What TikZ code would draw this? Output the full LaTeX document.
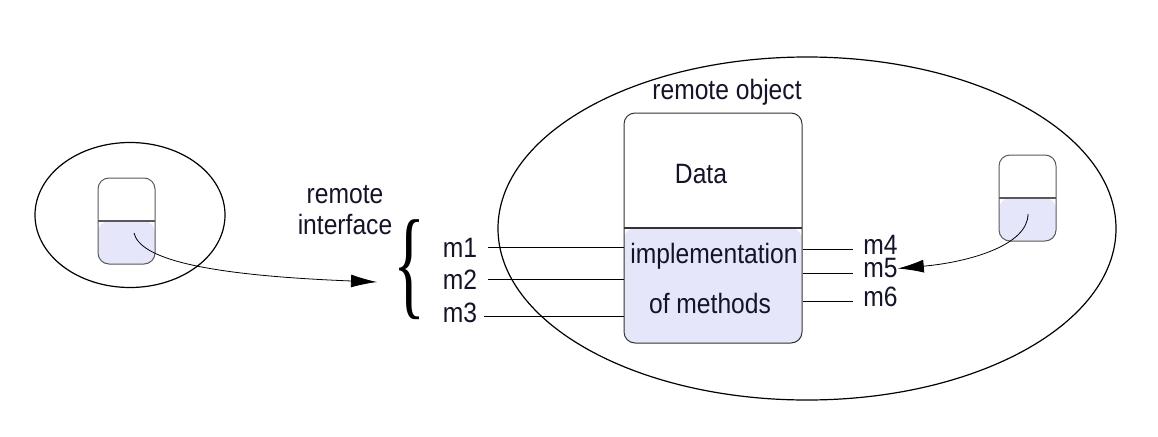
\documentclass[tikz,border=0pt]{standalone}
\usepackage{graphicx}
\usepackage{fontspec}
\setmainfont{Liberation Sans}[FakeStretch=0.88]
\newfontfamily\bracefont{Liberation Serif}
\usetikzlibrary{shapes.geometric,arrows.meta}
\definecolor{lav}{RGB}{230,230,250}
\definecolor{txt}{RGB}{20,20,40}
\tikzset{
  halo/.style={draw, ellipse, line width=1.2pt, inner sep=0pt},
  objbox/.style={draw=#1, line width=1pt, rounded corners=11pt, inner sep=0pt,
    path picture={\fill[lav] (path picture bounding box.west) rectangle (path picture bounding box.south east);
      \draw[line width=1.2pt] (path picture bounding box.west) -- (path picture bounding box.east);}},
  lbl/.style={inner sep=0pt, text=txt, font=\fontsize{28}{32}\selectfont},
  mline/.style={line width=1pt},
  call/.style={line width=0.8pt, -{Latex[length=26pt,width=13pt]}},
}
\begin{document}
\begin{tikzpicture}[x=1pt,y=-1pt]
\useasboundingbox (0,0) rectangle (1158,436);
% ellipses
\node[halo, minimum width=190pt, minimum height=145pt] (cl) at (130,215) {};
\node[halo, minimum width=618pt, minimum height=343pt] (srv) at (807,228.5) {};
% boxes
\node[objbox=gray!70!black, minimum width=57pt, minimum height=86pt] (cli) at (126.5,221) {};
\node[objbox=gray!70!black, minimum width=57pt, minimum height=86pt] (rc) at (1027.5,198) {};
\node[objbox=black!80, minimum width=178pt, minimum height=230pt] (obj) at (713,228) {};
% texts
\node[lbl] (ro) at (727,92) {remote object};
\node[lbl] (data) at (701,174) {Data};
\node[lbl] (impl) at (714,256) {implementation};
\node[lbl] (meth) at (710,303) {of methods};
\node[lbl, align=center] (ri) at (345,210) {remote\\[-1pt]interface};
\node[inner sep=0pt] (brace) at (410,270) {\resizebox*{32pt}{100pt}{\bracefont\{}};
\node[lbl] (m1) at (460,248) {m1};
\node[lbl] (m2) at (460,280) {m2};
\node[lbl] (m3) at (460,313) {m3};
\node[lbl] (m4) at (880.5,245) {m4};
\node[lbl] (m5) at (880.5,268.5) {m5};
\node[lbl] (m6) at (880.5,297) {m6};
% method line ends
\coordinate (e1) at (488,247);
\coordinate (e2) at (488,279);
\coordinate (e3) at (484,316);
\coordinate (e4) at (853,249);
\coordinate (e5) at (853,273);
\coordinate (e6) at (853,301);
\draw[mline] (e1) -- (obj.west |- e1);
\draw[mline] (e2) -- (obj.west |- e2);
\draw[mline] (e3) -- (obj.west |- e3);
\draw[mline] (obj.east |- e4) -- (e4);
\draw[mline] (obj.east |- e5) -- (e5);
\draw[mline] (obj.east |- e6) -- (e6);
% calls
\coordinate (t1) at (377,282);
\draw[call] ([xshift=7.5pt,yshift=-12pt]cli.center) .. controls (140,258) and (200,275) .. (t1);
\draw[call] ([xshift=0.5pt,yshift=-16pt]rc.center) .. controls (1028,245) and (970,262) .. (m5.east);
\end{tikzpicture}
\end{document}
